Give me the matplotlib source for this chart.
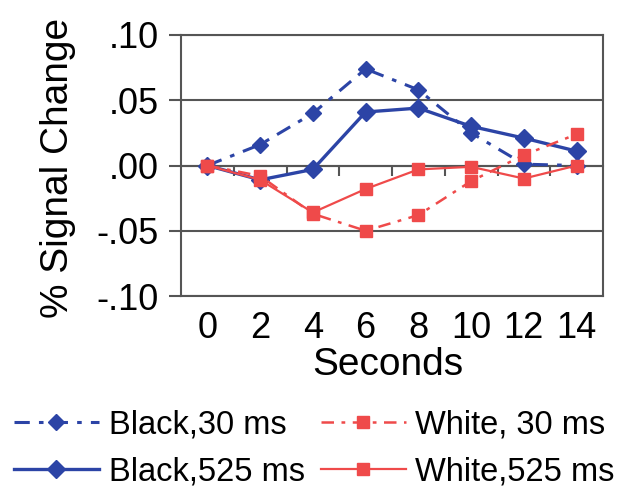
import matplotlib
matplotlib.use('Agg')
import matplotlib.pyplot as plt
import numpy as np

plt.rcParams['font.family'] = ['Liberation Sans', 'DejaVu Sans']

seconds = np.array([0, 2, 4, 6, 8, 10, 12, 14])
black_30 = [0.000, 0.016, 0.040, 0.074, 0.058, 0.025, 0.001, 0.000]
black_525 = [0.000, -0.011, -0.003, 0.041, 0.044, 0.030, 0.021, 0.011]
white_30 = [0.000, -0.008, -0.037, -0.050, -0.038, -0.012, 0.008, 0.024]
white_525 = [0.000, -0.011, -0.036, -0.018, -0.003, -0.001, -0.010, 0.000]
yticks = [-0.10, -0.05, 0.00, 0.05, 0.10]
ytick_labels = ['-.10', '-.05', '.00', '.05', '.10']

blue = '#2c44a6'
red = '#ef4a4a'
frame = '#555555'
dashdot = (0, (5, 3, 1.5, 3))

fig = plt.figure(figsize=(6.3, 4.96), dpi=100)
ax = fig.add_axes([181/630, 200/496, 422/630, 261/496])

ax.plot(seconds, black_30, color=blue, lw=2.2, linestyle=dashdot, marker='D', ms=8,
        label='Black,30 ms')
ax.plot(seconds, black_525, color=blue, lw=2.4, marker='D', ms=9, label='Black,525 ms')
ax.plot(seconds, white_30, color=red, lw=1.8, linestyle=dashdot, marker='s', ms=8,
        label='White, 30 ms')
ax.plot(seconds, white_525, color=red, lw=1.6, marker='s', ms=8.5, label='White,525 ms')

ax.set_xlim(-1, 15)
ax.set_ylim(-0.10, 0.10)
ax.set_yticks(yticks)
ax.set_yticklabels(ytick_labels)
ax.set_xticks(seconds)
ax.set_xticklabels([str(s) for s in seconds])
ax.grid(axis='y', color=frame, lw=1.5)
ax.set_axisbelow(True)

for s in ax.spines.values():
    s.set_color(frame)
    s.set_linewidth(1.5)

ax.tick_params(axis='y', direction='out', length=9, width=1.5, color=frame,
               labelsize=26, pad=7)
ax.tick_params(axis='x', length=0, labelsize=26, pad=11)

# small category ticks on the zero line
sec = ax.secondary_xaxis(0, transform=ax.transData)
sec.set_xticks((seconds[:-1] + seconds[1:]) / 2)
sec.set_xticklabels([])
sec.tick_params(axis='x', direction='out', length=7, width=1.5, color=frame)
sec.spines['bottom'].set_color(frame)
sec.spines['bottom'].set_linewidth(1.5)

ax.set_xlabel('Seconds', fontsize=28)
ax.xaxis.set_label_coords(0.49, -0.195)
ax.set_ylabel('% Signal Change', fontsize=28)
ax.yaxis.set_label_coords(-0.25, 0.49)

fig.legend(loc='center left', bbox_to_anchor=(0.022, 0.096), ncol=2, frameon=False,
           fontsize=23.5, handlelength=2.6, handletextpad=0.3, columnspacing=0.5,
           labelspacing=0.5, numpoints=1, borderaxespad=0, borderpad=0)

plt.savefig('out.png', dpi=100)
